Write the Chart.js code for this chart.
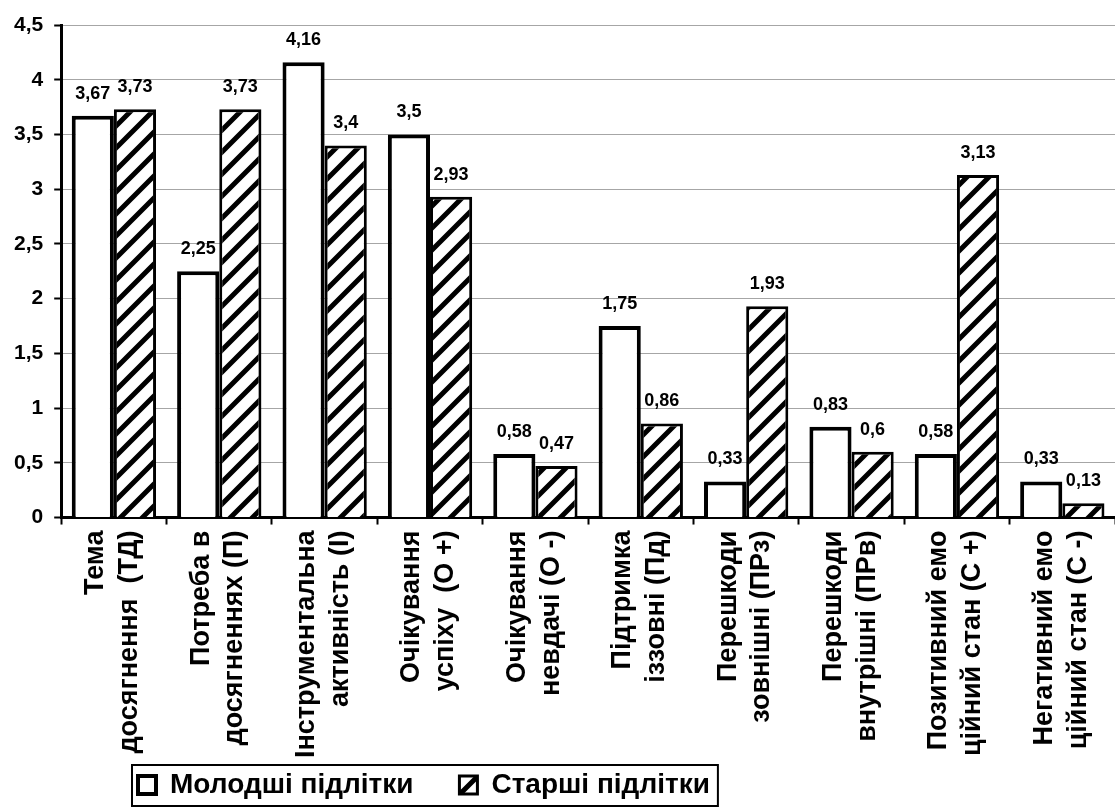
<!DOCTYPE html>
<html>
<head>
<meta charset="utf-8">
<script src="https://cdn.jsdelivr.net/npm/chart.js@4.4.0/dist/chart.umd.min.js"></script>
<style>
  html, body { margin: 0; padding: 0; background: #fff; }
  #wrap { width: 1115px; height: 809px; position: relative; }
</style>
</head>
<body>
<div id="wrap"><canvas id="chart"></canvas></div>
<script>
// categories (two lines each, as in the picture)
var categories = [
    ['Тема', 'досягнення  (ТД)'],
    ['Потреба в', 'досягненнях (П)'],
    ['Інструментальна', 'активність (І)'],
    ['Очікування', 'успіху  (О +)'],
    ['Очікування', 'невдачі (О -)'],
    ['Підтримка', 'іззовні (Пд)'],
    ['Перешкоди', 'зовнішні (ПРз)'],
    ['Перешкоди', 'внутрішні (ПРв)'],
    ['Позитивний емо', 'ційний стан (С +)'],
    ['Негативний емо', 'ційний стан (С -)']
];
var youngerValues = [3.67, 2.25, 4.16, 3.5, 0.58, 1.75, 0.33, 0.83, 0.58, 0.33];
var olderValues = [3.73, 3.73, 3.4, 2.93, 0.47, 0.86, 1.93, 0.6, 3.13, 0.13];
var yTicks = [0, 0.5, 1, 1.5, 2, 2.5, 3, 3.5, 4, 4.5];
var seriesNames = ['Молодші підлітки', 'Старші підлітки'];

var FONT = '"Liberation Sans", Arial, sans-serif';

function commaNum(v) {
    return String(v).replace('.', ',');
}

// diagonal hatch like the Excel "wide upward diagonal" fill
function makeHatch() {
    var s = 22;
    var c = document.createElement('canvas');
    c.width = s;
    c.height = s;
    var g = c.getContext('2d');
    g.fillStyle = '#fff';
    g.fillRect(0, 0, s, s);
    g.strokeStyle = '#000';
    g.lineWidth = 5;
    g.beginPath();
    g.moveTo(0, s); g.lineTo(s, 0);
    g.moveTo(-s / 2, s / 2); g.lineTo(s / 2, -s / 2);
    g.moveTo(s / 2, s * 1.5); g.lineTo(s * 1.5, s / 2);
    g.stroke();
    return g.createPattern(c, 'repeat');
}

var valueLabels = {
    id: 'valueLabels',
    afterDatasetsDraw: function (chart) {
        var ctx = chart.ctx;
        ctx.save();
        ctx.font = 'bold 18px ' + FONT;
        ctx.fillStyle = '#000';
        ctx.textAlign = 'center';
        ctx.textBaseline = 'middle';
        chart.data.datasets.forEach(function (ds, i) {
            chart.getDatasetMeta(i).data.forEach(function (bar, j) {
                ctx.fillText(commaNum(ds.data[j]), bar.x, bar.y - 22);
            });
        });
        ctx.restore();
    }
};

// move the legend to the left and draw a frame round it
var legendFrame = {
    id: 'legendFrame',
    afterLayout: function (chart, args, opts) {
        var lg = chart.legend;
        var w = lg.right - lg.left;
        lg.left = opts.left;
        lg.right = opts.left + w;
    },
    afterDraw: function (chart) {
        var lg = chart.legend;
        var pad = lg.options.labels.padding;
        var ctx = chart.ctx;
        var x0 = lg.left + pad - 6;
        var x1 = lg.left + lg.lineWidths[0] + 8;
        ctx.save();
        ctx.strokeStyle = '#000';
        ctx.lineWidth = 2;
        ctx.strokeRect(x0, lg.top + 1, x1 - x0, lg.bottom - lg.top - 4);
        ctx.restore();
    }
};

var ctx = document.getElementById('chart').getContext('2d');
var chart = new Chart(ctx, {
    type: 'bar',
    data: {
        labels: categories,
        datasets: [{
            label: seriesNames[0],
            data: youngerValues,
            backgroundColor: '#fff',
            borderColor: '#000',
            borderWidth: 4
        }, {
            label: seriesNames[1],
            data: olderValues,
            backgroundColor: makeHatch(),
            borderColor: '#000',
            borderWidth: 3
        }]
    },
    options: {
        responsive: true,
        maintainAspectRatio: false,
        animation: false,
        layout: {
            padding: { top: 25, left: 3, right: 0, bottom: 0 }
        },
        datasets: {
            bar: { categoryPercentage: 0.8, barPercentage: 1.0 }
        },
        scales: {
            x: {
                border: { display: true, color: '#000', width: 3 },
                grid: { display: true, drawOnChartArea: false, offset: true, tickLength: 7, tickColor: '#000', tickWidth: 2 },
                ticks: {
                    autoSkip: false,
                    minRotation: 90,
                    maxRotation: 90,
                    padding: 6,
                    labelOffset: -18,
                    color: '#000',
                    font: { family: FONT, size: 27, weight: 'bold', lineHeight: 1.25 }
                },
                afterFit: function (scale) {
                    // the plot runs to the right edge, as in the picture
                    scale.paddingRight = 0;
                    scale.paddingLeft = 0;
                }
            },
            y: {
                min: 0,
                max: 4.5,
                afterBuildTicks: function (axis) {
                    axis.ticks = yTicks.map(function (v) { return { value: v }; });
                },
                border: { display: true, color: '#000', width: 3 },
                grid: { color: '#a6a6a6', lineWidth: 1, tickColor: '#000', tickLength: 7, tickWidth: 2 },
                ticks: {
                    padding: 11,
                    color: '#000',
                    font: { family: FONT, size: 21, weight: 'bold' },
                    callback: function (v) { return commaNum(v); }
                }
            }
        },
        plugins: {
            legend: {
                display: true,
                position: 'bottom',
                align: 'start',
                labels: {
                    color: '#000',
                    boxWidth: 18,
                    boxHeight: 18,
                    padding: 7,
                    font: { family: FONT, size: 28, weight: 'bold' },
                    generateLabels: function (chart) {
                        var items = Chart.defaults.plugins.legend.labels.generateLabels(chart);
                        items[0].text = items[0].text + '     ';
                        return items;
                    }
                }
            },
            tooltip: { enabled: false },
            legendFrame: { left: 131 }
        }
    },
    plugins: [valueLabels, legendFrame]
});
</script>
</body>
</html>
